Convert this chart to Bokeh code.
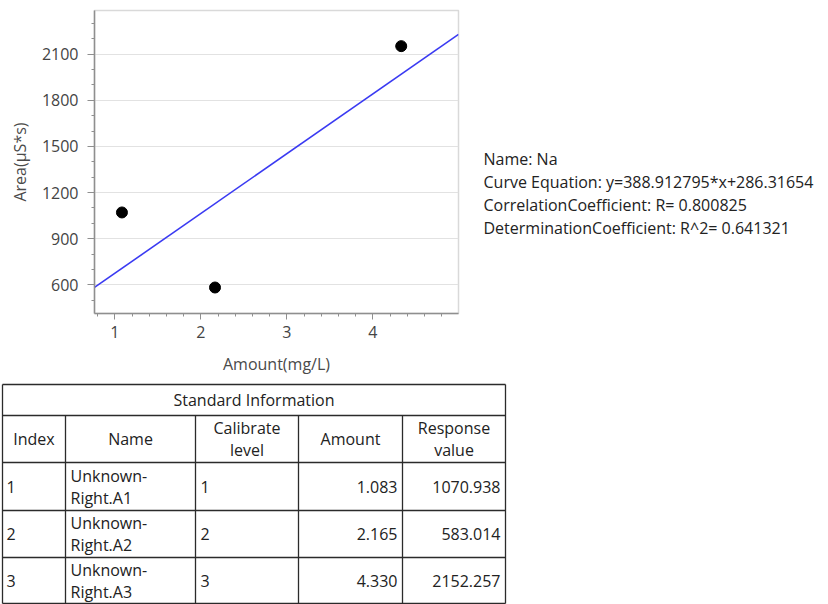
from bokeh.plotting import figure
from bokeh.layouts import column, row
from bokeh.models import SingleIntervalTicker, Range1d, ColumnDataSource
from bokeh.embed import file_html
from bokeh.resources import INLINE
from bokeh.core.properties import value

FONT = "Open Sans"

# calibration standards for Na
compound = "Na"
index = [1, 2, 3]
std_names = ["Unknown-Right.A1", "Unknown-Right.A2", "Unknown-Right.A3"]
levels = [1, 2, 3]
amounts = [1.083, 2.165, 4.330]
responses = [1070.938, 583.014, 2152.257]

# linear fit results
slope = 388.912795
intercept = 286.31654
corr_r = 0.800825
det_r2 = 0.641321

x_lo, x_hi = 0.764, 4.996
y_lo, y_hi = 414, 2384

# ---------------- calibration curve ----------------
chart = figure(width=470, height=380,
               x_range=Range1d(x_lo, x_hi), y_range=Range1d(y_lo, y_hi),
               output_backend="svg", toolbar_location=None,
               min_border_left=94, min_border_right=12,
               min_border_top=10, min_border_bottom=67,
               background_fill_color="white", border_fill_color="white")

chart.outline_line_color = "#d9d9d9"
chart.outline_line_width = 1.5
chart.xgrid.visible = False
chart.ygrid.grid_line_color = "#e2e2e2"
chart.ygrid.grid_line_width = 1

chart.xaxis.ticker = SingleIntervalTicker(interval=1, num_minor_ticks=5)
chart.yaxis.ticker = SingleIntervalTicker(interval=300, num_minor_ticks=3)
chart.xaxis.axis_label = "Amount(mg/L)"
chart.yaxis.axis_label = "Area(\u03bcS*s)"

for ax in (chart.xaxis[0], chart.yaxis[0]):
    ax.axis_line_color = "#8f8f8f"
    ax.axis_line_width = 1.5
    ax.major_tick_line_color = "#8f8f8f"
    ax.minor_tick_line_color = "#8f8f8f"
    ax.major_tick_in = 0
    ax.minor_tick_in = 0
    ax.minor_tick_out = 3
    ax.major_label_text_font = FONT
    ax.major_label_text_font_size = "16px"
    ax.major_label_text_color = "#444444"
    ax.axis_label_text_font = FONT
    ax.axis_label_text_font_size = "16px"
    ax.axis_label_text_font_style = "normal"
    ax.axis_label_text_color = "#4a4a4a"

chart.xaxis.major_tick_out = 6
chart.xaxis.major_label_standoff = 6
chart.xaxis.axis_label_standoff = 12
chart.yaxis.major_tick_out = 7
chart.yaxis.major_label_standoff = 9
chart.yaxis.axis_label_standoff = 8

fit_x = [x_lo, x_hi]
fit_y = [slope * x + intercept for x in fit_x]
chart.line(fit_x, fit_y, line_color="#3a3af2", line_width=1.6)

pts = ColumnDataSource(dict(x=amounts, y=responses))
chart.scatter("x", "y", source=pts, size=11, fill_color="black", line_color="black")

# ---------------- fit summary ----------------
IW, IH = 358, 380
info = figure(frame_width=IW, frame_height=IH, x_range=Range1d(0, IW), y_range=Range1d(IH, 0),
              output_backend="svg", toolbar_location=None,
              x_axis_type=None, y_axis_type=None,
              min_border_left=0, min_border_right=0, min_border_top=0, min_border_bottom=0,
              outline_line_color=None, background_fill_color="white",
              border_fill_color="white")

info_lines = [
    f"Name: {compound}",
    f"Curve Equation: y={slope}*x+{intercept}",
    f"CorrelationCoefficient: R= {corr_r}",
    f"DeterminationCoefficient: R^2= {det_r2}",
]
info.text(x=[13] * len(info_lines), y=[148 + 23 * i for i in range(len(info_lines))],
          text=info_lines, text_font=value(FONT), text_font_size="16px",
          text_color="#222222", text_baseline="middle", text_align="left")

# ---------------- standard information table ----------------
TW, TH = 510, 224
table = figure(width=TW, height=TH, x_range=Range1d(0, TW), y_range=Range1d(TH, 0),
               output_backend="svg", toolbar_location=None,
               x_axis_type=None, y_axis_type=None, min_border=0,
               outline_line_color=None, background_fill_color="white",
               border_fill_color="white")

row_edges = [4, 35, 82, 130, 177, 223]
col_edges = [2, 65, 195, 298, 402, 505]

hx0, hx1, hy = [], [], []
for yv in row_edges:
    hx0.append(col_edges[0]); hx1.append(col_edges[-1]); hy.append(yv)
table.segment(x0=hx0, x1=hx1, y0=hy, y1=hy, line_color="#2b2b2b", line_width=1.3)

vx, vy0, vy1 = [], [], []
for i, xv in enumerate(col_edges):
    vx.append(xv)
    vy0.append(row_edges[0] if i in (0, len(col_edges) - 1) else row_edges[1])
    vy1.append(row_edges[-1])
table.segment(x0=vx, x1=vx, y0=vy0, y1=vy1, line_color="#2b2b2b", line_width=1.3)

txt = dict(text_font=value(FONT), text_font_size="16px", text_color="#222222",
           text_baseline="middle")

table.text(x=[(col_edges[0] + col_edges[-1]) / 2], y=[(row_edges[0] + row_edges[1]) / 2],
           text=["Standard Information"], text_align="center", **txt)

headers = ["Index", "Name", "Calibrate\nlevel", "Amount", "Response\nvalue"]
hcy = (row_edges[1] + row_edges[2]) / 2
for i, h in enumerate(headers):
    cx = (col_edges[i] + col_edges[i + 1]) / 2
    parts = h.split("\n")
    if len(parts) == 1:
        table.text(x=[cx], y=[hcy], text=[h], text_align="center", **txt)
    else:
        table.text(x=[cx, cx], y=[hcy - 11, hcy + 11], text=parts, text_align="center", **txt)

for r in range(len(index)):
    cy = (row_edges[r + 2] + row_edges[r + 3]) / 2
    table.text(x=[col_edges[0] + 4], y=[cy], text=[str(index[r])], text_align="left", **txt)
    head, tail = std_names[r].split("-", 1)
    table.text(x=[col_edges[1] + 5] * 2, y=[cy - 11, cy + 11],
               text=[head + "-", tail], text_align="left", **txt)
    table.text(x=[col_edges[2] + 5], y=[cy], text=[str(levels[r])], text_align="left", **txt)
    table.text(x=[col_edges[4] - 5], y=[cy], text=[f"{amounts[r]:.3f}"], text_align="right", **txt)
    table.text(x=[col_edges[5] - 5], y=[cy], text=[f"{responses[r]:.3f}"], text_align="right", **txt)

layout = column(row(chart, info), table)

open("out.html", "w").write(file_html(layout, INLINE))
